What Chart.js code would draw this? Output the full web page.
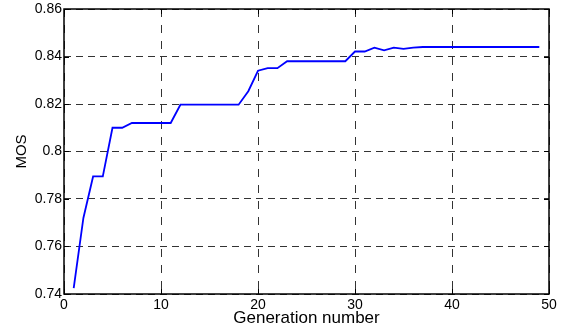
<!DOCTYPE html>
<html><head><meta charset="utf-8">
<script src="https://cdn.jsdelivr.net/npm/chart.js@4/dist/chart.umd.min.js"></script>
<style>html,body{margin:0;padding:0;background:#fff}#wrap{width:570px;height:331px}</style>
</head><body><div id="wrap"><canvas id="c" width="570" height="331"></canvas></div>
<script>
const generations = [1,2,3,4,5,6,7,8,9,10,11,12,13,14,15,16,17,18,19,20,21,22,23,24,25,26,27,28,29,30,31,32,33,34,35,36,37,38,39,40,41,42,43,44,45,46,47,48,49];
const mos = [0.7425,0.772,0.7895,0.7895,0.810,0.810,0.812,0.812,0.812,0.812,0.812,
  0.8197,0.8197,0.8197,0.8197,0.8197,0.8197,0.8197,
  0.8254,0.834,0.8351,0.8351,0.838,0.838,0.838,0.838,0.838,0.838,0.838,
  0.8421,0.8421,0.8437,0.8426,0.8437,0.8432,0.8437,0.844,
  0.844,0.844,0.844,0.844,0.844,0.844,0.844,0.844,0.844,0.844,0.844,0.844];
const xTicks = [0,10,20,30,40,50];
const yTicks = [0.74,0.76,0.78,0.80,0.82,0.84,0.86];
const yTickLabels = ['0.74','0.76','0.78','0.8','0.82','0.84','0.86'];
const xTitle = 'Generation number';
const yTitle = 'MOS';

const FONT = '"Liberation Sans", Arial, sans-serif';

const frame = {
  id: 'frame',
  afterDraw(chart) {
    const {ctx, chartArea: a, scales} = chart;
    ctx.save();
    ctx.setLineDash([]);
    ctx.strokeStyle = '#000';
    ctx.lineWidth = 1;
    ctx.beginPath();
    scales.x.ticks.forEach(t => {
      const px = Math.round(scales.x.getPixelForValue(t.value)) + 0.5;
      ctx.moveTo(px, a.bottom); ctx.lineTo(px, a.bottom - 5);
      ctx.moveTo(px, a.top); ctx.lineTo(px, a.top + 5);
    });
    scales.y.ticks.forEach(t => {
      const py = Math.round(scales.y.getPixelForValue(t.value)) + 0.5;
      ctx.moveTo(a.left, py); ctx.lineTo(a.left + 5, py);
      ctx.moveTo(a.right, py); ctx.lineTo(a.right - 5, py);
    });
    ctx.stroke();
    ctx.lineWidth = 1.5;
    ctx.strokeRect(a.left, a.top, a.right - a.left, a.bottom - a.top);
    ctx.restore();
  }
};

new Chart(document.getElementById('c'), {
  type: 'scatter',
  data: {
    datasets: [{
      data: generations.map((g, i) => ({x: g, y: mos[i]})),
      showLine: true,
      borderColor: '#0000ff',
      borderWidth: 1.8,
      pointRadius: 0,
      tension: 0,
      fill: false
    }]
  },
  options: {
    responsive: false,
    animation: false,
    devicePixelRatio: 1,
    layout: {padding: {top: 7, right: 21, left: 0, bottom: 0}},
    plugins: {legend: {display: false}, tooltip: {enabled: false}},
    scales: {
      x: {
        type: 'linear', min: 0, max: 50,
        afterBuildTicks: s => { s.ticks = xTicks.map(v => ({value: v})); },
        afterFit: s => { s.height = 37; },
        grid: {color: '#333', lineWidth: 1, drawTicks: false},
        border: {display: false, dash: [8, 8]},
        ticks: {padding: 3, color: '#000', maxRotation: 0, autoSkip: false,
          font: {family: FONT, size: 14}},
        title: {display: true, text: xTitle, color: '#000',
          font: {family: FONT, size: 17}, padding: {top: 0, bottom: 2}}
      },
      y: {
        type: 'linear', min: 0.74, max: 0.86,
        afterBuildTicks: s => { s.ticks = yTicks.map(v => ({value: v})); },
        afterFit: s => { s.width = 64; },
        grid: {color: '#333', lineWidth: 1, drawTicks: false},
        border: {display: false, dash: [7, 5]},
        ticks: {padding: 2, color: '#000', autoSkip: false,
          font: {family: FONT, size: 14, lineHeight: 1},
          callback: (v) => { const i = yTicks.findIndex(t => Math.abs(t - v) < 1e-9); return i >= 0 ? yTickLabels[i] : ''; }},
        title: {display: true, text: yTitle, color: '#000',
          font: {family: FONT, size: 15}, padding: {top: 13, bottom: 0}}
      }
    }
  },
  plugins: [frame]
});
</script></body></html>
